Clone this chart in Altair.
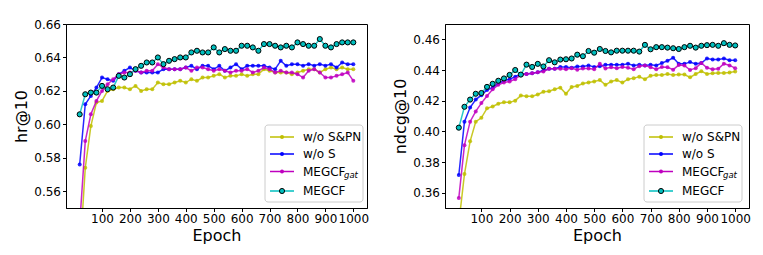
import altair as alt
import pandas as pd

epochs = list(range(20, 1001, 20))
series = ["w/o S&PN", "w/o S", "MEGCF_gat", "MEGCF"]
colors = {"w/o S&PN": "#bfbf00", "w/o S": "#0000ff", "MEGCF_gat": "#bf00bf", "MEGCF": "#00bfbf"}

hr_wo_spn = [.520, .574, .599, .613, .614, .620, .621, .622, .622, .621,
             .623, .620, .621, .621, .625, .624, .624, .625, .626, .625,
             .627, .626, .628, .628, .629, .630, .628, .629, .629, .630,
             .629, .630, .630, .633, .632, .631, .631, .631, .630, .631,
             .632, .633, .633, .631, .633, .634, .633, .634, .633, .633]
hr_wo_s = [.576, .612, .617, .622, .628, .627, .626, .630, .632, .634,
           .632, .631, .631, .631, .631, .633, .633, .633, .633, .634,
           .635, .633, .635, .635, .633, .635, .632, .634, .636, .633,
           .635, .635, .635, .635, .634, .633, .638, .635, .636, .636,
           .635, .636, .635, .636, .635, .636, .634, .637, .636, .636]
hr_gat = [.540, .590, .606, .614, .620, .624, .627, .630, .631, .631,
          .632, .631, .632, .632, .636, .634, .633, .633, .633, .634,
          .632, .634, .634, .633, .632, .633, .632, .631, .632, .632,
          .633, .631, .632, .634, .633, .631, .632, .631, .631, .630,
          .628, .632, .633, .631, .628, .628, .629, .630, .631, .626]
hr_megcf = [.606, .618, .619, .619, .623, .621, .622, .629, .628, .630,
            .633, .635, .637, .637, .640, .636, .638, .639, .640, .640,
            .643, .644, .643, .643, .646, .643, .645, .644, .644, .647,
            .647, .646, .644, .648, .648, .647, .646, .647, .646, .649,
            .648, .647, .647, .651, .647, .646, .648, .649, .649, .649]

nd_wo_spn = [.340, .3721, .3935, .4063, .4088, .415, .4162, .418, .4189, .4189,
             .420, .4233, .4229, .4229, .424, .4258, .4262, .4274, .4285, .4245,
             .4289, .4296, .4312, .4318, .4325, .4334, .4303, .4325, .4334, .4318,
             .434, .4347, .4356, .434, .4363, .4368, .4368, .4374, .4368, .437,
             .437, .4352, .4374, .4392, .4374, .4379, .4381, .4381, .4383, .439]
nd_wo_s = [.3715, .4063, .4155, .4207, .4236, .427, .4285, .4312, .433, .434,
           .4356, .4374, .4374, .4379, .4385, .4397, .4408, .4408, .4419, .4419,
           .4414, .4423, .4423, .443, .442, .4425, .4435, .4435, .4435, .4435,
           .444, .443, .4435, .443, .4435, .443, .4445, .446, .448, .444,
           .444, .4452, .444, .4445, .4475, .4468, .4468, .4475, .4464, .4464]
nd_gat = [.3566, .391, .4063, .413, .4184, .423, .4274, .4303, .4318, .4325,
          .434, .4368, .4374, .4379, .4385, .439, .4408, .4408, .4408, .4405,
          .4412, .4402, .441, .441, .4405, .4441, .441, .4418, .4412, .442,
          .4415, .4405, .4425, .443, .4418, .4405, .442, .4418, .4402, .4432,
          .443, .44, .4412, .4446, .4415, .4405, .4408, .4441, .443, .4412]
nd_megcf = [.4024, .416, .4207, .4245, .425, .429, .431, .433, .4345, .4368,
            .440, .437, .4435, .442, .444, .4423, .4464, .445, .4468, .447,
            .4475, .450, .449, .4524, .4513, .4537, .4524, .4515, .4526, .4526,
            .4526, .4526, .452, .4564, .4535, .4549, .4549, .4546, .4542, .4537,
            .4549, .4558, .4546, .4558, .4562, .4564, .4558, .4575, .4564, .456]

x_ticks = list(range(100, 1001, 100))
hr_ticks = [0.56, 0.58, 0.60, 0.62, 0.64, 0.66]
nd_ticks = [0.36, 0.38, 0.40, 0.42, 0.44, 0.46]

FONT = "DejaVu Sans"
one = pd.DataFrame({"a": [0]})


def legend_layers():
    out = []
    out.append(alt.Chart(one).mark_rect(fill="white", fillOpacity=0.8, stroke="#cccccc",
                                         strokeWidth=1, cornerRadius=3).encode(
        x=alt.value(199), x2=alt.value(297), y=alt.value(101), y2=alt.value(178)))
    rows = [113, 130, 147.5, 167]
    for name, ry in zip(series, rows):
        c = colors[name]
        out.append(alt.Chart(one).mark_rule(color=c, strokeWidth=1.5).encode(
            x=alt.value(204), x2=alt.value(228), y=alt.value(ry)))
        if name == "MEGCF":
            out.append(alt.Chart(one).mark_point(filled=True, fill=c, stroke="black",
                                                 strokeWidth=1, size=26, opacity=1).encode(
                x=alt.value(216), y=alt.value(ry)))
        else:
            out.append(alt.Chart(one).mark_point(filled=True, color=c, size=16, opacity=1).encode(
                x=alt.value(216), y=alt.value(ry)))
        label = "MEGCF" if name == "MEGCF_gat" else name
        out.append(alt.Chart(one).mark_text(align="left", baseline="middle", fontSize=12,
                                            font=FONT, color="black").encode(
            x=alt.value(237), y=alt.value(ry), text=alt.value(label)))
        if name == "MEGCF_gat":
            out.append(alt.Chart(one).mark_text(align="left", baseline="middle", fontSize=8.5,
                                                fontStyle="italic", font=FONT, color="black").encode(
                x=alt.value(278), y=alt.value(ry + 3.5), text=alt.value("gat")))
    return out


def panel(vals, ytitle, ydomain, yticks, width):
    layers = []
    for name in series:
        df = pd.DataFrame({"epoch": epochs, "v": vals[name]})
        x = alt.X("epoch:Q", scale=alt.Scale(domain=[-29, 1049], nice=False, zero=False),
                  axis=alt.Axis(values=x_ticks, title="Epoch", format="d"))
        y = alt.Y("v:Q", scale=alt.Scale(domain=ydomain, nice=False, zero=False),
                  axis=alt.Axis(values=yticks, format=".2f", title=ytitle))
        c = colors[name]
        base = alt.Chart(df)
        layers.append(base.mark_line(color=c, strokeWidth=1.5, opacity=0.85, clip=True).encode(x=x, y=y))
        if name == "MEGCF":
            layers.append(base.mark_point(filled=True, fill=c, stroke="black", strokeWidth=1,
                                          size=26, opacity=1, clip=True).encode(x=x, y=y))
        else:
            layers.append(base.mark_point(filled=True, color=c, size=16, opacity=0.85,
                                          clip=True).encode(x=x, y=y))
    layers += legend_layers()
    return alt.layer(*layers).properties(width=width, height=184)


left = panel({"w/o S&PN": hr_wo_spn, "w/o S": hr_wo_s, "MEGCF_gat": hr_gat, "MEGCF": hr_megcf},
             "hr@10", [0.55, 0.66], hr_ticks, 301)
right = panel({"w/o S&PN": nd_wo_spn, "w/o S": nd_wo_s, "MEGCF_gat": nd_gat, "MEGCF": nd_megcf},
              "ndcg@10", [0.35, 0.47], nd_ticks, 304)

chart = alt.hconcat(left, right, spacing=22).properties(
    padding={"left": 5, "top": 9, "right": 0, "bottom": 0}
).configure_view(stroke="black", strokeWidth=1).configure_axis(
    grid=False, domainColor="black", tickColor="black", tickSize=3.5, labelPadding=2,
    labelFont=FONT, titleFont=FONT, labelFontSize=12, titleFontSize=16,
    titleFontWeight="normal", labelColor="black", titleColor="black", titlePadding=4
).configure_axisX(titlePadding=3)

chart.save("out.html", embed_options={"renderer": "svg", "actions": False})
